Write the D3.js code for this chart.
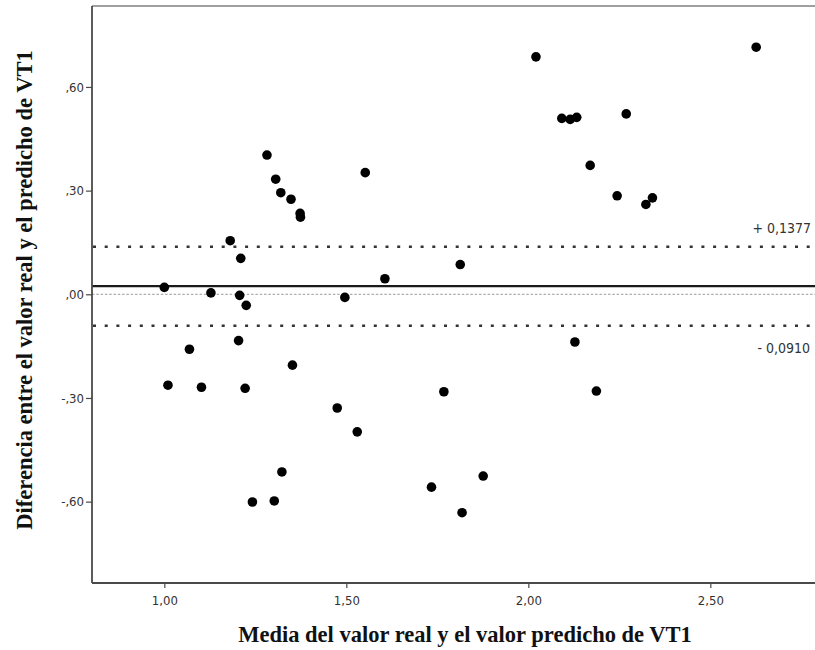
<!DOCTYPE html>
<html>
<head>
<meta charset="utf-8">
<script src="https://cdn.jsdelivr.net/npm/d3@7"></script>
<style>
  body { margin: 0; background: #fff; }
  svg { display: block; }
</style>
</head>
<body>
<svg id="chart" width="815" height="650"></svg>
<script>
// Data (Bland-Altman plot)
const xMeans = [1.000, 1.010, 1.069, 1.102, 1.128, 1.181, 1.210, 1.207, 1.225, 1.204,
  1.222, 1.242, 1.282, 1.306, 1.320, 1.302, 1.323, 1.348, 1.352, 1.373,
  1.374, 1.475, 1.496, 1.530, 1.552, 1.606, 1.734, 1.768, 1.813, 1.818,
  1.876, 2.021, 2.092, 2.115, 2.133, 2.128, 2.170, 2.187, 2.244, 2.269,
  2.323, 2.341, 2.626];
const yDiffs = [0.020, -0.263, -0.159, -0.269, 0.004, 0.155, 0.104, -0.003, -0.032, -0.134,
  -0.272, -0.601, 0.403, 0.333, 0.294, -0.598, -0.514, 0.275, -0.205, 0.234,
  0.223, -0.329, -0.009, -0.398, 0.352, 0.045, -0.558, -0.282, 0.086, -0.632,
  -0.526, 0.687, 0.509, 0.506, 0.512, -0.138, 0.373, -0.280, 0.285, 0.522,
  0.260, 0.279, 0.715];
const upperLimit = 0.1377;
const lowerLimit = -0.0910;
const meanDiff = (upperLimit + lowerLimit) / 2;
const xTicks = [1.0, 1.5, 2.0, 2.5];
const xTickLabels = ["1,00", "1,50", "2,00", "2,50"];
const yTicks = [0.6, 0.3, 0.0, -0.3, -0.6];
const yTickLabels = [",60", ",30", ",00", "-,30", "-,60"];
const upperLabel = "+ 0,1377";
const lowerLabel = "- 0,0910";
const xTitle = "Media del valor real y el valor predicho de VT1";
const yTitle = "Diferencia entre el valor real y el predicho de VT1";

(function () {
const svg = d3.select("#chart");
const pL = 92, pR = 815, pT = 6, pB = 583;

const x = d3.scaleLinear().domain([0.8013, 2.7876]).range([pL, pR]);
const y = d3.scaleLinear().domain([-0.8354, 0.8342]).range([pB, pT]);

const tickFont = "'DejaVu Sans Condensed', 'DejaVu Sans', sans-serif";
const titleFont = "'Liberation Serif', 'Times New Roman', serif";
const axisColor = "#4a4a4a";

// Zero reference line
svg.append("line")
  .attr("x1", pL).attr("x2", pR)
  .attr("y1", y(0)).attr("y2", y(0))
  .attr("stroke", "#999").attr("stroke-width", 1)
  .attr("stroke-dasharray", "2.5,1.8");

// Limits of agreement
[upperLimit, lowerLimit].forEach(v => {
  svg.append("line")
    .attr("x1", pL + 1).attr("x2", pR)
    .attr("y1", y(v)).attr("y2", y(v))
    .attr("stroke", "#333").attr("stroke-width", 2.5)
    .attr("stroke-dasharray", "3,8.7");
});

// Mean difference
svg.append("line")
  .attr("x1", pL).attr("x2", pR)
  .attr("y1", y(meanDiff)).attr("y2", y(meanDiff))
  .attr("stroke", "#1a1a1a").attr("stroke-width", 2.2);

// Limit labels
svg.append("text").attr("x", 811).attr("y", y(upperLimit) - 13.5)
  .attr("text-anchor", "end").attr("font-family", tickFont)
  .attr("font-size", 14).attr("fill", "#333").text(upperLabel);
svg.append("text").attr("x", 810).attr("y", y(lowerLimit) + 27)
  .attr("text-anchor", "end").attr("font-family", tickFont)
  .attr("font-size", 14).attr("fill", "#333").text(lowerLabel);

// Frame top line
svg.append("line").attr("x1", pL).attr("x2", pR)
  .attr("y1", pT).attr("y2", pT)
  .attr("stroke", "#808080").attr("stroke-width", 1.6);

// Axes
const xAxis = d3.axisBottom(x).tickValues(xTicks)
  .tickFormat((d, i) => xTickLabels[i]).tickSize(5).tickSizeOuter(0);
const gx = svg.append("g").attr("transform", `translate(0,${pB})`).call(xAxis);
gx.select(".domain").attr("stroke", axisColor).attr("stroke-width", 1.8)
  .attr("d", `M${pL},0H${pR}`);
gx.selectAll(".tick line").attr("stroke", axisColor).attr("stroke-width", 1.2);
gx.selectAll(".tick text").attr("font-family", tickFont).attr("font-size", 13)
  .attr("fill", "#333").attr("y", 10).attr("dy", "0.9em");

const yAxis = d3.axisLeft(y).tickValues(yTicks)
  .tickFormat((d, i) => yTickLabels[i]).tickSize(6).tickSizeOuter(0);
const gy = svg.append("g").attr("transform", `translate(${pL},0)`).call(yAxis);
gy.select(".domain").attr("stroke", axisColor).attr("stroke-width", 1.8)
  .attr("d", `M0,${pT}V${pB}`);
gy.selectAll(".tick line").attr("stroke", axisColor).attr("stroke-width", 1.2);
gy.selectAll(".tick text").attr("font-family", tickFont).attr("font-size", 13)
  .attr("fill", "#333").attr("x", -8);

// Points
svg.append("g").selectAll("circle")
  .data(xMeans.map((v, i) => [v, yDiffs[i]]))
  .join("circle")
  .attr("cx", d => x(d[0])).attr("cy", d => y(d[1]))
  .attr("r", 4.8).attr("fill", "#000");

// Titles
svg.append("text").attr("x", 465).attr("y", 642)
  .attr("text-anchor", "middle")
  .attr("font-family", titleFont)
  .attr("font-weight", "bold").attr("font-size", 22.5).attr("fill", "#111")
  .text(xTitle);

svg.append("text")
  .attr("transform", `translate(32,290) rotate(-90)`)
  .attr("text-anchor", "middle")
  .attr("font-family", titleFont)
  .attr("font-weight", "bold").attr("font-size", 22.5).attr("fill", "#111")
  .text(yTitle);
})();
</script>
</body>
</html>
